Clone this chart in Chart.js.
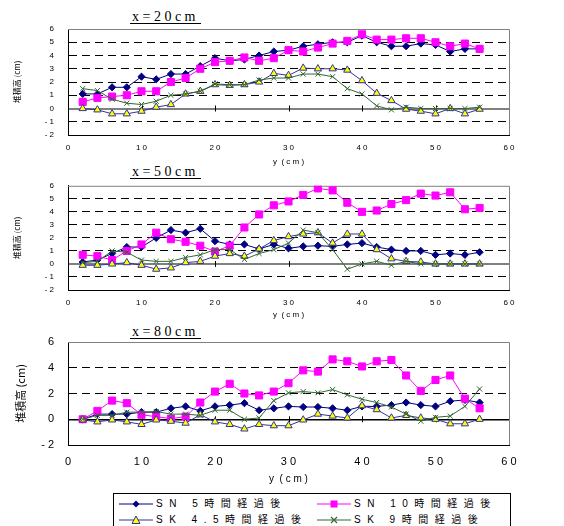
<!DOCTYPE html>
<html>
<head>
<meta charset="utf-8">
<script src="https://cdn.jsdelivr.net/npm/chart.js@4.4.1/dist/chart.umd.min.js"></script>
<style>
  body { margin: 0; background: #fff; }
  #wrap { position: relative; width: 564px; height: 526px; overflow: hidden; background: #fff; }
  .panel { position: absolute; left: 0; width: 564px; }
  .ttl { position: absolute; left: 130px; font-family: "Liberation Serif", serif; font-size: 14px;
         line-height: 13px; border-bottom: 1px solid #000; padding: 0 5px 0 2px; color: #000; }
  #legend { position: absolute; left: 113px; top: 493px; width: 396px; height: 40px;
            border: 1px solid #000; background: #fff; }
  .lg { position: absolute; height: 12px; font-family: "Liberation Sans", "Noto Sans CJK JP", sans-serif;
        font-size: 10px; letter-spacing: 6.5px; line-height: 12px; white-space: nowrap; color: #000; }
  .lg svg { position: absolute; left: 0; top: 1px; }
  .lg span { position: absolute; left: 37px; top: 0; }
</style>
</head>
<body>
<div id="wrap">
  <div class="ttl" style="top:10px">x = 2 0 c m</div>
  <div class="ttl" style="top:165px">x = 5 0 c m</div>
  <div class="ttl" style="top:325px">x = 8 0 c m</div>

  <div class="panel" style="top:0px"><canvas id="chart20" width="564" height="167"></canvas></div>
  <div class="panel" style="top:167px"><canvas id="chart50" width="564" height="153"></canvas></div>
  <div class="panel" style="top:320px"><canvas id="chart80" width="564" height="165"></canvas></div>

  <div id="legend">
    <div class="lg" style="left:5px;top:4px">
      <svg width="34" height="10"><line x1="0" y1="5" x2="34" y2="5" stroke="#000080"/><polygon points="17,1.5 20.5,5 17,8.5 13.5,5" fill="#000080"/></svg>
      <span>SN 5時間経過後</span>
    </div>
    <div class="lg" style="left:203px;top:4px">
      <svg width="34" height="10"><line x1="0" y1="5" x2="34" y2="5" stroke="#FF00FF"/><rect x="13.5" y="1.5" width="7" height="7" fill="#FF00FF"/></svg>
      <span>SN 10時間経過後</span>
    </div>
    <div class="lg" style="left:5px;top:20px">
      <svg width="34" height="10"><line x1="0" y1="5" x2="34" y2="5" stroke="#333399"/><polygon points="17,1 21,8.5 13,8.5" fill="#FFFF00" stroke="#333399"/></svg>
      <span>SK 4.5時間経過後</span>
    </div>
    <div class="lg" style="left:203px;top:20px">
      <svg width="34" height="10"><line x1="0" y1="5" x2="34" y2="5" stroke="#336633"/><path d="M14,2 L20,8 M20,2 L14,8" stroke="#336633" stroke-width="1.2"/></svg>
      <span>SK 9時間経過後</span>
    </div>
  </div>
</div>

<script>
// measuring positions across the channel (cm)
const yPos = [2, 4, 6, 8, 10, 12, 14, 16, 18, 20, 22, 24, 26, 28, 30, 32, 34, 36, 38, 40, 42, 44, 46, 48, 50, 52, 54, 56];

// axis tick labels
const xTickValues = [0, 10, 20, 30, 40, 50, 60];
const xTickLabels = ['0', '1 0', '2 0', '3 0', '4 0', '5 0', '6 0'];
const yTickValues = [-2, -1, 0, 1, 2, 3, 4, 5, 6];
const yTickLabels = ['- 2', '- 1', '0', '1', '2', '3', '4', '5', '6'];

const seriesNames = ['SN　5時間経過後', 'SN　10時間経過後', 'SK　4.5時間経過後', 'SK　9時間経過後'];

// x = 20cm
const sn5_20  = [1.1, 1.1, 1.6, 1.6, 2.4, 2.2, 2.6, 2.6, 3.2, 3.8, 3.6, 3.7, 4.0, 4.3, 4.4, 4.7, 4.85, 5.0, 5.0, 5.5, 5.0, 4.7, 4.7, 4.9, 4.8, 4.3, 4.5, 4.5];
const sn10_20 = [0.5, 0.8, 0.9, 1.0, 1.3, 1.3, 2.0, 2.3, 3.0, 3.5, 3.6, 3.85, 3.6, 3.8, 4.4, 4.3, 4.6, 4.9, 5.1, 5.6, 5.2, 5.2, 5.3, 5.3, 5.0, 4.7, 4.9, 4.5];
const sk45_20 = [0, -0.1, -0.4, -0.4, -0.2, 0.1, 0.3, 1.1, 1.3, 1.8, 1.75, 1.8, 2.0, 2.65, 2.5, 3.05, 3.0, 3.0, 2.9, 2.1, 1.15, 0.6, -0.05, -0.2, -0.4, 0, -0.4, -0.05];
const sk9_20  = [1.5, 1.35, 0.7, 0.4, 0.3, 0.55, 1.0, 1.1, 1.3, 1.85, 1.8, 1.8, 2.15, 2.3, 2.3, 2.6, 2.6, 2.4, 1.5, 1.1, 0.2, -0.1, 0.1, 0, 0, 0, 0, 0.1];

// x = 50cm
const sn5_50  = [0.15, 0.3, 0.8, 1.3, 1.3, 2.0, 2.6, 2.4, 2.7, 1.75, 1.5, 1.5, 1.15, 1.5, 1.2, 1.35, 1.4, 1.35, 1.5, 1.6, 1.3, 1.1, 1.0, 1.0, 0.7, 0.8, 0.7, 0.9];
const sn10_50 = [0.7, 0.6, 0.3, 1.0, 1.5, 2.4, 1.9, 1.7, 1.4, 0.95, 1.4, 2.8, 3.8, 4.5, 4.8, 5.3, 5.8, 5.65, 4.7, 4.0, 4.1, 4.6, 4.9, 5.4, 5.25, 5.5, 4.2, 4.3];
const sk45_50 = [-0.1, -0.1, 0, 0.1, -0.1, -0.4, -0.3, 0.1, 0.2, 0.6, 0.8, 0.6, 1.15, 1.8, 2.1, 2.3, 2.4, 1.6, 2.3, 2.3, 1.1, 0.4, 0.2, 0.15, 0, 0, 0, 0];
const sk9_50  = [0.1, 0.2, 1.0, 0.9, 0.3, 0.2, 0.2, 0.5, 0.7, 1.1, 1.1, 0.35, 0.8, 1.1, 1.6, 2.6, 2.4, 1.1, -0.4, 0, 0.2, -0.1, 0.2, 0, 0, 0, 0, 0];

// x = 80cm
const sn5_80  = [0, 0.4, 0.4, 0.4, 0.55, 0.55, 0.85, 1.0, 0.65, 1.0, 1.1, 1.25, 0.7, 0.85, 1.0, 0.95, 0.95, 0.85, 0.7, 1.0, 1.0, 1.1, 1.3, 1.1, 1.0, 1.4, 1.5, 1.3];
const sn10_80 = [0, 0.65, 1.45, 1.25, 0.35, 0.2, 0.05, 0.2, 1.3, 2.15, 2.75, 2.0, 1.85, 2.15, 2.8, 3.8, 3.7, 4.65, 4.5, 4.1, 4.5, 4.6, 3.4, 2.2, 3.05, 3.4, 1.6, 0.85];
const sk45_80 = [-0.05, -0.2, -0.05, -0.2, -0.4, -0.05, -0.15, -0.3, 0.35, -0.2, -0.4, -0.75, -0.4, -0.5, -0.5, -0.05, 0.4, 0.25, 0.1, 1.05, 0.75, 0.1, 0.3, 0.1, 0, -0.35, -0.35, 0];
const sk9_80  = [0, 0.3, 0.3, 0.55, 0.55, 0.6, 0.4, 0.4, 0.3, 0.7, 0.7, 0, 0.1, 1.45, 2.05, 2.15, 2.05, 2.3, 1.9, 1.55, 1.3, 0.95, 0.4, -0.15, 0.15, 0.25, 1.0, 2.35];

// gray frame on top/right of the plot area + small ticks on the zero line
const frameAndTicks = {
  id: 'frameAndTicks',
  beforeDatasetsDraw(chart) {
    const { ctx, chartArea: a, scales } = chart;
    ctx.save();
    ctx.strokeStyle = '#808080';
    ctx.lineWidth = 1;
    ctx.beginPath();
    ctx.moveTo(a.left, a.top + 0.5);
    ctx.lineTo(a.right + 0.5, a.top + 0.5);
    ctx.lineTo(a.right + 0.5, a.bottom);
    ctx.stroke();
    const y0 = scales.y.getPixelForValue(0);
    ctx.strokeStyle = '#000';
    ctx.beginPath();
    xTickValues.slice(1, -1).forEach(v => {
      const px = Math.round(scales.x.getPixelForValue(v)) + 0.5;
      ctx.moveTo(px, y0 - 3);
      ctx.lineTo(px, y0 + 3);
    });
    ctx.stroke();
    ctx.restore();
  }
};

function toPoints(arr) {
  return arr.map((v, i) => ({ x: yPos[i], y: v }));
}

function isZeroTick(c) {
  return c.tick && c.tick.value === 0;
}

function buildChart(canvasId, series, o) {
  const ctx = document.getElementById(canvasId);
  const datasets = [
    { label: seriesNames[0], data: toPoints(series[0]), borderColor: '#000080', backgroundColor: '#000080',
      pointStyle: 'rectRot', pointRadius: 3.6, pointBorderColor: '#000080', order: 4 },
    { label: seriesNames[1], data: toPoints(series[1]), borderColor: '#FF00FF', backgroundColor: '#FF00FF',
      pointStyle: 'rect', pointRadius: 5, pointBorderColor: '#FF00FF', order: 3 },
    { label: seriesNames[2], data: toPoints(series[2]), borderColor: '#333399', backgroundColor: '#FFFF00',
      pointStyle: 'triangle', pointRadius: 4.2, pointBorderColor: '#333399', order: 2 },
    { label: seriesNames[3], data: toPoints(series[3]), borderColor: '#336633', backgroundColor: '#336633',
      pointStyle: 'crossRot', pointRadius: 3.6, pointBorderColor: '#336633', order: 1 }
  ];
  datasets.forEach(d => { d.borderWidth = 1; d.pointBorderWidth = 1; d.tension = 0; d.fill = false; });

  return new Chart(ctx, {
    type: 'line',
    data: { datasets },
    plugins: [frameAndTicks],
    options: {
      responsive: false,
      animation: false,
      devicePixelRatio: 1,
      layout: { padding: { top: o.padTop, right: 55, left: 0, bottom: 0 } },
      plugins: { legend: { display: false }, tooltip: { enabled: false } },
      scales: {
        x: {
          type: 'linear',
          min: 0,
          max: 60,
          afterFit(scale) { scale.height = o.xAxisHeight; },
          afterBuildTicks(scale) { scale.ticks = xTickValues.map(v => ({ value: v })); },
          border: { color: '#000', width: 1 },
          grid: { display: false, drawTicks: false },
          ticks: {
            color: '#000',
            padding: o.xTickPad,
            maxRotation: 0,
            font: { family: 'Liberation Sans', size: o.tickSize },
            callback: v => xTickLabels[xTickValues.indexOf(v)]
          },
          title: {
            display: true,
            text: 'y  ( c m )',
            color: '#000',
            padding: 0,
            font: { family: 'Liberation Sans', size: o.xTitleSize }
          }
        },
        y: {
          min: -2,
          max: 6,
          afterFit(scale) { scale.width = 68; },
          afterBuildTicks(scale) { scale.ticks = yTickValues.map(v => ({ value: v })); },
          // in v4 the dash of the grid lines comes from border.dash
          border: { color: '#000', width: 1, dash: c => (c.tick && !isZeroTick(c)) ? [8, 5] : [] },
          grid: {
            drawTicks: false,
            color: c => (c.tick.value === 6 || c.tick.value === -2) ? 'rgba(0,0,0,0)' :
                        (c.tick.value === 0 ? o.zeroColor : '#000'),
            lineWidth: c => c.tick.value === 0 ? o.zeroWidth : 1
          },
          ticks: {
            color: '#000',
            padding: o.yTickPad,
            font: { family: 'Liberation Sans', size: o.tickSize },
            callback: v => yTickLabels[yTickValues.indexOf(v)]
          },
          title: {
            display: true,
            text: '堆積高 (cm)',
            color: '#000',
            padding: { top: o.yTitlePad, bottom: 0 },
            font: { family: 'Noto Sans CJK JP', size: o.yTitleSize }
          }
        }
      }
    }
  });
}

document.addEventListener('DOMContentLoaded', () => {
  buildChart('chart20', [sn5_20, sn10_20, sk45_20, sk9_20], {
    padTop: 29, xAxisHeight: 32, tickSize: 8, xTickPad: 8, xTitleSize: 8, yTickPad: 14,
    yTitleSize: 8, yTitlePad: 12, zeroColor: '#808080', zeroWidth: 2
  });
  buildChart('chart50', [sn5_50, sn10_50, sk45_50, sk9_50], {
    padTop: 17, xAxisHeight: 30, tickSize: 8, xTickPad: 8, xTitleSize: 8, yTickPad: 14,
    yTitleSize: 8, yTitlePad: 12, zeroColor: '#808080', zeroWidth: 2
  });
  buildChart('chart80', [sn5_80, sn10_80, sk45_80, sk9_80], {
    padTop: 22, xAxisHeight: 40, tickSize: 11, xTickPad: 10, xTitleSize: 10, yTickPad: 14,
    yTitleSize: 11, yTitlePad: 14, zeroColor: '#000', zeroWidth: 1.5
  });
});
</script>
</body>
</html>
